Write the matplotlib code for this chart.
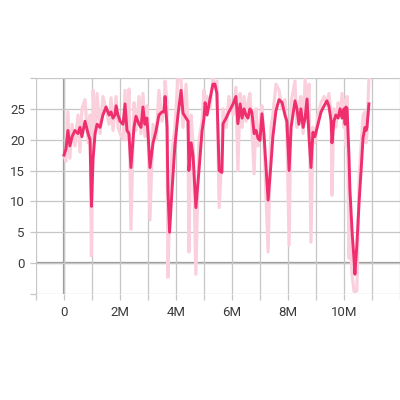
import matplotlib
matplotlib.use('Agg')
import matplotlib.pyplot as plt
import matplotlib.ticker as mticker

plt.rcParams['font.family'] = ['Roboto', 'DejaVu Sans']

# colours
pink = '#ef2e6e'
pink_light = '#fbd0dd'
grid = '#c6c6c6'
zero = '#999999'
text = '#3c3c3c'

# training steps (millions)
steps = [0.00, 0.07, 0.14, 0.21, 0.29, 0.39, 0.50, 0.57, 0.64, 0.75,
         0.86, 0.93, 0.98, 1.04, 1.11, 1.18, 1.29, 1.39, 1.50, 1.61,
         1.68, 1.75, 1.82, 1.86, 1.93, 2.00, 2.11, 2.18, 2.25, 2.32,
         2.39, 2.50, 2.57, 2.68, 2.75, 2.82, 2.89, 2.96, 3.00, 3.07,
         3.18, 3.29, 3.39, 3.50, 3.57, 3.61, 3.68, 3.71, 3.77, 3.86,
         3.96, 4.07, 4.18, 4.25, 4.36, 4.43, 4.46, 4.54, 4.61, 4.71,
         4.82, 4.93, 5.00, 5.04, 5.11, 5.21, 5.32, 5.39, 5.46, 5.54,
         5.64, 5.68, 5.79, 5.89, 6.04, 6.14, 6.21, 6.29, 6.36, 6.43,
         6.50, 6.57, 6.64, 6.71, 6.79, 6.86, 6.93, 7.00, 7.07, 7.14,
         7.29, 7.39, 7.46, 7.57, 7.68, 7.79, 7.89, 7.96, 8.04, 8.11,
         8.25, 8.32, 8.39, 8.46, 8.54, 8.61, 8.68, 8.75, 8.82, 8.89,
         8.96, 9.07, 9.18, 9.29, 9.39, 9.46, 9.54, 9.57, 9.64, 9.71,
         9.79, 9.86, 9.93, 10.00, 10.04, 10.07, 10.11, 10.18, 10.21, 10.29,
         10.36, 10.39, 10.46, 10.54, 10.61, 10.68, 10.75, 10.79, 10.82, 10.89]

# raw reward values (faint line)
raw = [17.5, 16.5, 24.5, 17.0, 22.5, 19.0, 24.0, 18.0, 25.0, 26.5,
       19.5, 24.0, 1.2, 28.0, 21.0, 27.5, 21.0, 27.0, 25.0, 22.5,
       26.8, 21.5, 25.0, 27.0, 22.0, 21.0, 20.0, 28.0, 20.0, 28.2,
       5.5, 26.0, 21.5, 27.0, 21.0, 27.5, 20.5, 25.5, 22.0, 7.0,
       22.5, 20.0, 28.0, 23.0, 25.0, 29.5, 26.0, -2.3, 8.0, 18.0,
       22.0, 30.0, 30.0, 22.0, 29.0, 22.0, 1.8, 24.0, 19.0, -1.8,
       20.0, 23.0, 28.0, 24.5, 27.0, 25.0, 30.0, 28.5, 29.5, 9.0,
       18.0, 25.0, 22.0, 27.0, 24.0, 28.5, 15.0, 27.5, 22.0, 27.0,
       23.0, 26.0, 27.5, 22.0, 14.5, 25.0, 19.0, 22.5, 25.5, 20.0,
       1.8, 22.0, 24.0, 29.0, 28.0, 25.0, 26.5, 21.0, 2.9, 26.0,
       29.5, 22.0, 25.5, 27.0, 21.0, 29.8, 23.0, 29.0, 3.4, 22.0,
       19.5, 24.0, 26.0, 27.0, 25.5, 27.5, 24.0, 11.0, 25.0, 22.0,
       26.0, 24.0, 27.5, 22.0, 26.5, 19.0, 27.0, 0.8, 6.0, -2.0,
       -4.6, -4.6, -4.5, 14.0, 19.0, 24.0, 24.5, 19.5, 21.0, 30.0]

# smoothed reward values (bold line)
smooth = [17.5, 18.5, 21.5, 19.0, 20.5, 21.5, 21.0, 22.0, 20.5, 23.0,
          21.0, 20.0, 9.2, 17.0, 21.0, 22.5, 22.0, 24.0, 25.3, 24.0,
          24.5, 23.5, 24.0, 25.5, 24.0, 23.0, 22.5, 25.8, 21.5, 21.0,
          15.5, 22.0, 23.8, 22.5, 22.0, 25.3, 22.5, 23.5, 21.0, 15.5,
          19.5, 21.5, 24.0, 24.5, 24.5, 27.0, 22.0, 12.0, 5.0, 12.0,
          19.0, 24.0, 28.0, 24.3, 23.5, 23.0, 15.0, 19.5, 17.4, 9.0,
          15.0, 21.4, 23.5, 26.0, 24.0, 26.5, 29.0, 29.0, 27.5, 15.0,
          14.7, 22.6, 23.5, 24.5, 25.8, 27.0, 22.6, 25.8, 23.5, 25.0,
          24.0, 23.5, 25.0, 24.5, 21.0, 21.5, 20.2, 19.9, 24.2, 21.0,
          10.2, 16.0, 20.5, 24.7, 26.5, 26.0, 24.0, 23.0, 15.0, 22.0,
          26.3, 25.0, 22.5, 25.0, 22.0, 23.5, 26.6, 20.5, 15.5, 21.2,
          20.5, 22.5, 24.5, 25.5, 26.3, 25.5, 23.0, 19.5, 23.0, 24.0,
          23.5, 25.0, 23.5, 25.0, 22.5, 25.3, 25.0, 17.0, 12.0, 5.0,
          0.5, -1.8, 3.0, 10.0, 15.0, 20.3, 22.0, 21.5, 22.0, 25.8]

x_labels = {0: '0', 2: '2M', 4: '4M', 6: '6M', 8: '8M', 10: '10M'}
y_labels = [0, 5, 10, 15, 20, 25]

fig = plt.figure(figsize=(4, 4), dpi=100)
ax = fig.add_axes([0.09, 0.265, 0.91, 0.54])

ax.plot(steps, raw, color=pink_light, linewidth=2.3, zorder=2)
ax.plot(steps, smooth, color=pink, linewidth=2.1, zorder=3)

ax.set_xlim(-1, 12)
ax.set_ylim(-5, 30)
ax.xaxis.set_major_locator(mticker.MultipleLocator(1))
ax.yaxis.set_major_locator(mticker.MultipleLocator(5))
ax.xaxis.set_major_formatter(mticker.FuncFormatter(
    lambda v, pos: x_labels.get(int(round(v)), '')))
ax.yaxis.set_major_formatter(mticker.FuncFormatter(
    lambda v, pos: str(int(round(v))) if int(round(v)) in y_labels else ''))

ax.grid(True, color=grid, linewidth=0.9, zorder=0)
ax.axhline(0, color=zero, linewidth=1.6, zorder=1)
ax.axvline(0, color=zero, linewidth=1.6, zorder=1)
for s in ax.spines.values():
    s.set_visible(False)
ax.tick_params(axis='both', colors=grid, labelcolor=text, labelsize=9.5,
               length=4, width=0.9)
ax.tick_params(axis='x', pad=5)
ax.tick_params(axis='y', pad=4)

fig.savefig('out.png', dpi=100)
